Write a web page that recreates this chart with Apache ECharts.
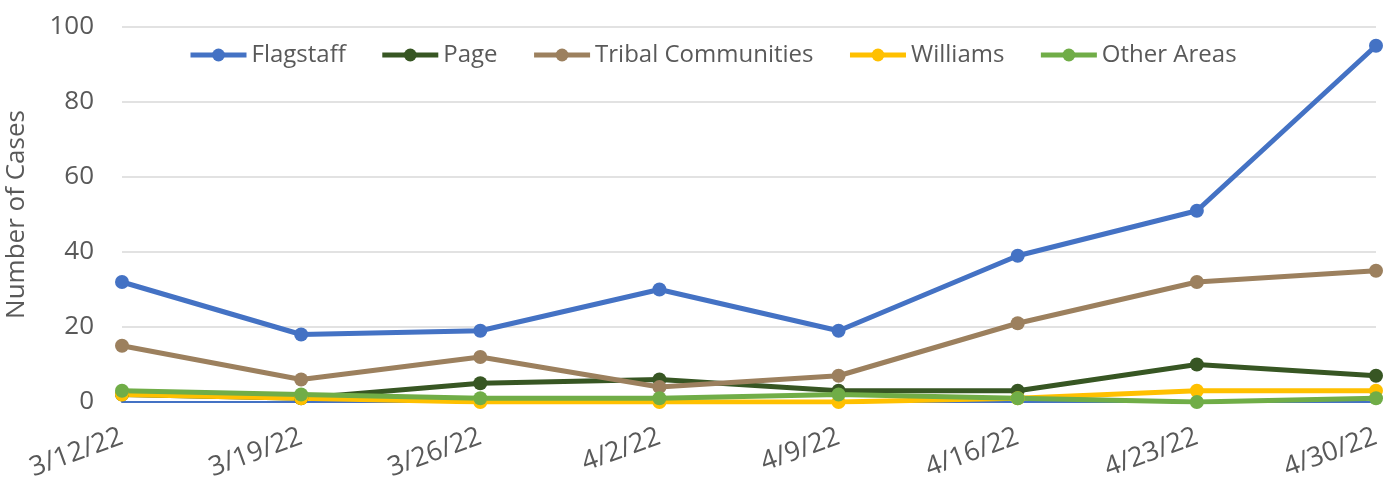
<!DOCTYPE html>
<html>
<head>
<meta charset="utf-8">
<script src="https://cdn.jsdelivr.net/npm/echarts@6/dist/echarts.min.js"></script>
<style>
html,body{margin:0;padding:0;background:#fff;}
#chart{width:1390px;height:501px;}
</style>
</head>
<body>
<div id="chart"></div>
<script>
// weekly case counts by area
var weeks = ['3/12/22','3/19/22','3/26/22','4/2/22','4/9/22','4/16/22','4/23/22','4/30/22'];
var flagstaff = [32, 18, 19, 30, 19, 39, 51, 95];
var page = [2, 1, 5, 6, 3, 3, 10, 7];
var tribal = [15, 6, 12, 4, 7, 21, 32, 35];
var williams = [2, 1, 0, 0, 0, 1, 3, 3];
var otherAreas = [3, 2, 1, 1, 2, 1, 0, 1];
var yTicks = {min: 0, max: 100, step: 20};

var FONT = '"Open Sans", "Noto Sans", sans-serif';
var TEXT = '#595959';

function makeLine(name, color, data){
	return {
		name: name,
		type: 'line',
		data: data,
		symbol: 'circle',
		symbolSize: 14,
		lineStyle: {color: color, width: 5},
		itemStyle: {color: color},
		emphasis: {disabled: true}
	};
}

var myChart = echarts.init(document.getElementById('chart'));
myChart.setOption({
	animation: false,
	textStyle: {fontFamily: FONT},
	legend: {
		top: 38,
		left: 183,
		itemWidth: 56,
		itemHeight: 16,
		itemGap: 34,
		lineStyle: {width: 5},
		textStyle: {color: TEXT, fontSize: 24, fontFamily: FONT},
		data: ['Flagstaff', 'Page', 'Tribal Communities', 'Williams', 'Other Areas']
	},
	grid: {left: 122, right: 14, top: 27, bottom: 99, outerBoundsMode: 'none', containLabel: false},
	xAxis: {
		type: 'category',
		boundaryGap: false,
		data: weeks,
		axisTick: {show: false},
		axisLine: {lineStyle: {color: '#4472C4', width: 2}},
		axisLabel: {
			color: TEXT,
			fontSize: 27,
			fontFamily: FONT,
			rotate: 20,
			margin: 34,
			interval: 0
		}
	},
	yAxis: {
		type: 'value',
		min: yTicks.min,
		max: yTicks.max,
		interval: yTicks.step,
		name: 'Number of Cases',
		nameLocation: 'middle',
		nameGap: 92,
		nameTextStyle: {color: TEXT, fontSize: 26, fontFamily: FONT},
		axisLine: {show: false},
		axisTick: {show: false},
		axisLabel: {color: TEXT, fontSize: 26, fontFamily: FONT, margin: 28},
		splitLine: {lineStyle: {color: '#d9d9d9', width: 1.5}}
	},
	series: [
		makeLine('Flagstaff', '#4472C4', flagstaff),
		makeLine('Page', '#375623', page),
		makeLine('Tribal Communities', '#9C805E', tribal),
		makeLine('Williams', '#FFC000', williams),
		makeLine('Other Areas', '#70AD47', otherAreas)
	]
});
</script>
</body>
</html>
